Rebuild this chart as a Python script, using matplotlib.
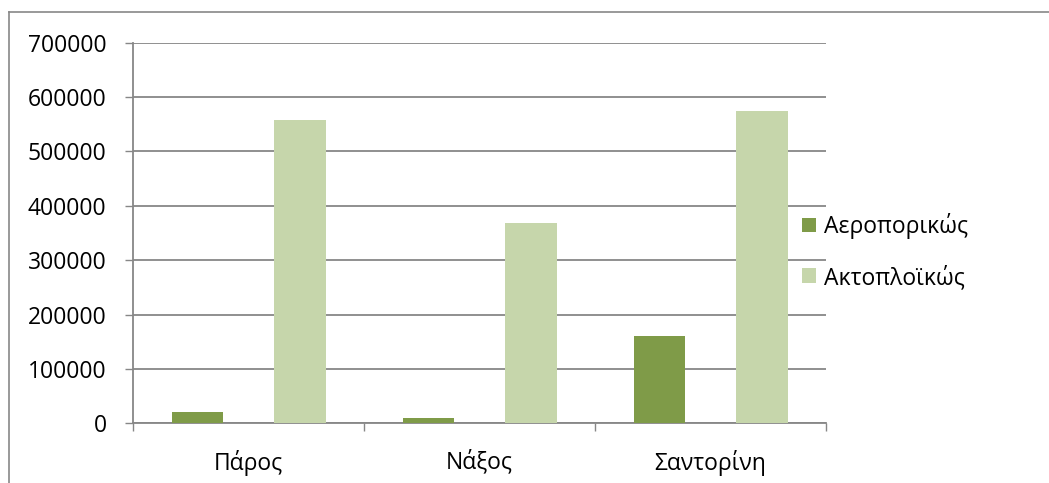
import matplotlib
matplotlib.use("Agg")
import matplotlib.pyplot as plt
from matplotlib.lines import Line2D
import numpy as np

plt.rcParams['font.family'] = ['Open Sans', 'DejaVu Sans']

islands = ["Πάρος", "Νάξος", "Σαντορίνη"]
series_names = ["Αεροπορικώς", "Ακτοπλοϊκώς"]
by_air = [20000, 9000, 161000]
by_sea = [557000, 368000, 574000]
yticks = [0, 100000, 200000, 300000, 400000, 500000, 600000, 700000]

AIR_COLOR = "#7F9B48"
SEA_COLOR = "#C6D6AB"
GRID_COLOR = "#878787"
FS = 16.5

W, H = 1049, 483
fig = plt.figure(figsize=(W / 100, H / 100), dpi=100)
ax = fig.add_axes([133 / W, (H - 423.3) / H, (826 - 133) / W, (423.3 - 42.7) / H])

x = np.arange(len(islands))
bw = 1 / 4.5
ax.bar(x - bw, by_air, width=bw, color=AIR_COLOR, label=series_names[0], zorder=3)
ax.bar(x + bw, by_sea, width=bw, color=SEA_COLOR, label=series_names[1], zorder=3)

ax.set_xlim(-0.5, len(islands) - 0.5)
ax.set_ylim(0, 700000)
ax.set_yticks(yticks)
ax.set_yticklabels([str(v) for v in yticks])

# category boundaries carry the tick marks, labels sit at the centres
ax.set_xticks(np.arange(len(islands) + 1) - 0.5)
ax.set_xticklabels([])
ax.set_xticks(x, minor=True)
ax.set_xticklabels(islands, minor=True)
ax.tick_params(axis='x', which='minor', length=0, pad=19, labelsize=FS)
ax.tick_params(axis='x', which='major', length=6, width=1.0, color=GRID_COLOR, direction='out')
ax.tick_params(axis='y', length=6, width=1.0, color=GRID_COLOR, direction='out', pad=13, labelsize=FS)

ax.grid(axis='y', color=GRID_COLOR, linewidth=1.3, zorder=0)
ax.set_axisbelow(True)
for side in ("top", "right"):
    ax.spines[side].set_visible(False)
for side in ("left", "bottom"):
    ax.spines[side].set_color(GRID_COLOR)
    ax.spines[side].set_linewidth(1.3)

fig.legend(loc="center left", bbox_to_anchor=(802 / W, 1 - 251.5 / H), frameon=False,
           fontsize=FS, handlelength=0.62, handleheight=0.62, handletextpad=0.35,
           labelspacing=1.15, borderaxespad=0, borderpad=0)

# chart area frame
fig.add_artist(Line2D([9 / W, 9 / W], [0, 1 - 12 / H], color=GRID_COLOR, linewidth=1.2))
fig.add_artist(Line2D([9 / W, 1], [1 - 12 / H, 1 - 12 / H], color=GRID_COLOR, linewidth=1.2))

fig.savefig("out.png", dpi=100, facecolor="white")
